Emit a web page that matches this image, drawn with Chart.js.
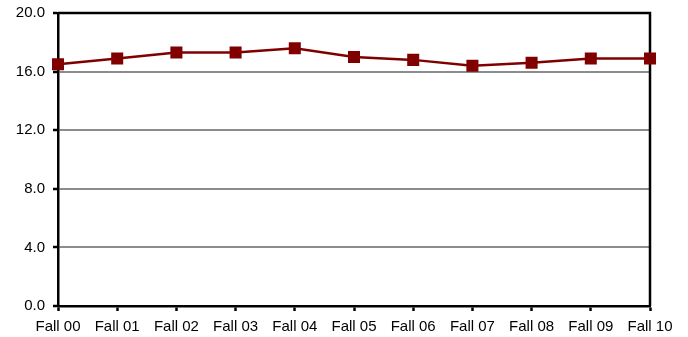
<!DOCTYPE html>
<html>
<head>
<meta charset="utf-8">
<script src="https://cdn.jsdelivr.net/npm/chart.js@4/dist/chart.umd.min.js"></script>
<style>
  html, body { margin: 0; padding: 0; background: #fff; }
  #wrap { width: 688px; height: 337px; position: relative; }
</style>
</head>
<body>
<div id="wrap"><canvas id="c"></canvas></div>
<script>
// Terms and values
const categories = ['Fall 00', 'Fall 01', 'Fall 02', 'Fall 03', 'Fall 04', 'Fall 05',
                    'Fall 06', 'Fall 07', 'Fall 08', 'Fall 09', 'Fall 10'];
const values = [16.5, 16.9, 17.3, 17.3, 17.6, 17.0, 16.8, 16.4, 16.6, 16.9, 16.9];
const yTicks = [0, 4, 8, 12, 16, 20];

const FONT = { family: '"Liberation Sans", Arial, sans-serif', size: 15 };

// Black frame on the top and right of the plot area
const framePlugin = {
  id: 'frame',
  beforeDatasetsDraw(chart) {
    const { ctx, chartArea: a } = chart;
    ctx.save();
    ctx.strokeStyle = '#000';
    ctx.lineWidth = 2.5;
    ctx.beginPath();
    ctx.moveTo(a.left, a.top);
    ctx.lineTo(a.right, a.top);
    ctx.lineTo(a.right, a.bottom);
    ctx.stroke();
    ctx.restore();
  }
};

new Chart(document.getElementById('c'), {
  type: 'line',
  data: {
    labels: categories,
    datasets: [{
      data: values,
      borderColor: '#800000',
      backgroundColor: '#800000',
      borderWidth: 2.5,
      pointStyle: 'rect',
      pointRadius: 8.5,
      pointHoverRadius: 8.5,
      pointBorderWidth: 0,
      tension: 0
    }]
  },
  options: {
    responsive: true,
    maintainAspectRatio: false,
    animation: false,
    devicePixelRatio: 1,
    layout: { padding: { top: 13, right: 38, left: 0, bottom: 0 } },
    plugins: { legend: { display: false }, tooltip: { enabled: false } },
    scales: {
      x: {
        offset: false,
        grid: {
          display: true,
          drawOnChartArea: false,
          drawTicks: true,
          tickLength: 5,
          tickColor: '#000',
          tickWidth: 2.5
        },
        border: { color: '#000', width: 2.5 },
        ticks: { color: '#000', font: FONT, maxRotation: 0, autoSkip: false, padding: 7 },
        afterFit(scale) { scale.height = 31; scale.paddingLeft = 0; scale.paddingRight = 0; }
      },
      y: {
        min: 0,
        max: 20,
        afterBuildTicks(scale) { scale.ticks = yTicks.map(v => ({ value: v })); },
        grid: {
          color: ctx => (ctx.tick && (ctx.tick.value === 0 || ctx.tick.value === 20)) ? 'rgba(0,0,0,0)' : '#8c8c8c',
          lineWidth: 2,
          tickLength: 5,
          tickColor: '#000',
          tickWidth: 2.5
        },
        border: { color: '#000', width: 2.5 },
        ticks: {
          color: '#000',
          font: FONT,
          padding: 8,
          callback: v => Number(v).toFixed(1)
        },
        afterFit(scale) { scale.width = 58; scale.paddingTop = 0; scale.paddingBottom = 0; }
      }
    }
  },
  plugins: [framePlugin]
});
</script>
</body>
</html>
